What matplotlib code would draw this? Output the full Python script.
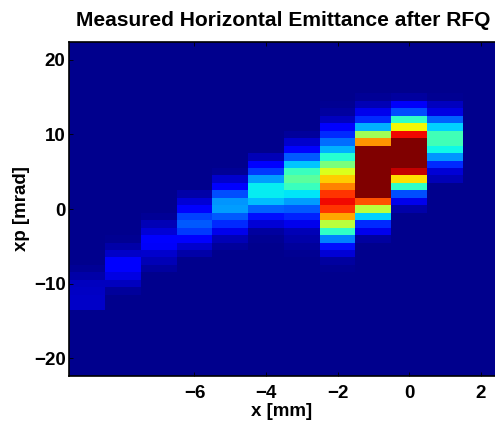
# Measured horizontal emittance after the RFQ, drawn as a jet heat map.

import numpy as np
import matplotlib
matplotlib.use("Agg")
import matplotlib.pyplot as plt

# Slit positions [mm] and angle bins [mrad]
x_centers = [-9, -8, -7, -6, -5, -4, -3, -2, -1, 0, 1, 2]
xp_centers = list(range(-23, 24))

# Each column is listed from its lowest lit xp bin upward
col_start = {-9: -13, -8: -11, -7: -8, -6: -6, -5: -5, -4: -4,
             -3: -6, -2: -8, -1: -4, 0: 0, 1: 4}

col_m9 = [0.052, 0.052, 0.048, 0.042, 0.024, 0.008]
col_m8 = [0.01, 0.042, 0.075, 0.097, 0.097, 0.05, 0.025, 0.005]
col_m7 = [0.014, 0.034, 0.055, 0.095, 0.097, 0.065, 0.034, 0.006]
col_m6 = [0.024, 0.055, 0.105, 0.17, 0.20, 0.18, 0.115, 0.065, 0.024]
col_m5 = [0.012, 0.034, 0.085, 0.155, 0.20, 0.27, 0.26, 0.19, 0.105, 0.055, 0.006]
col_m4 = [0.005, 0.014, 0.065, 0.125, 0.21, 0.30, 0.35, 0.35, 0.27, 0.17, 0.105, 0.034]
col_m3 = [0.003, 0.012, 0.024, 0.034, 0.085, 0.145, 0.20, 0.27, 0.34, 0.41, 0.45, 0.41,
          0.31, 0.20, 0.115, 0.055, 0.012]
col_m2 = [0.005, 0.014, 0.065, 0.125, 0.24, 0.40, 0.57, 0.73, 0.85, 0.90, 0.85, 0.77,
          0.69, 0.61, 0.49, 0.39, 0.29, 0.22, 0.155, 0.105, 0.045, 0.014, 0.005]
col_m1 = [0.014, 0.085, 0.155, 0.32, 0.57, 0.82, 1.0, 1.0, 1.0, 1.0, 1.0, 1.0, 1.0,
          0.75, 0.54, 0.29, 0.155, 0.085, 0.034, 0.006]
col_0 = [0.024, 0.085, 0.19, 0.40, 0.67, 0.94, 1.0, 1.0, 1.0, 1.0, 0.90, 0.64, 0.40,
         0.19, 0.095, 0.014]
col_p1 = [0.034, 0.065, 0.155, 0.26, 0.36, 0.42, 0.42, 0.32, 0.21, 0.075, 0.045, 0.005]

columns = {-9: col_m9, -8: col_m8, -7: col_m7, -6: col_m6, -5: col_m5, -4: col_m4,
           -3: col_m3, -2: col_m2, -1: col_m1, 0: col_0, 1: col_p1}

x_ticks = [-6, -4, -2, 0, 2]
y_ticks = [-20, -10, 0, 10, 20]

plt.rcParams["font.family"] = ["Liberation Sans", "DejaVu Sans"]
plt.rcParams["font.weight"] = "bold"

# Fill the grid, everything not listed stays at the background level
grid = np.zeros((len(xp_centers), len(x_centers)))
for x, vals in columns.items():
    i = x_centers.index(x)
    j = xp_centers.index(col_start[x])
    grid[j:j + len(vals), i] = vals

x_edges = np.arange(len(x_centers) + 1) - 9.5
xp_edges = np.arange(len(xp_centers) + 1) - 23.5

fig = plt.figure(figsize=(4.95, 4.22), dpi=100)
ax = fig.add_axes([69 / 495, 1 - 376 / 422, 426 / 495, 334 / 422])

# vmin a bit below zero so the background is the lighter navy of a 64 level jet
ax.pcolormesh(x_edges, xp_edges, grid, cmap="jet", vmin=-0.014, vmax=1.0)
ax.set_xlim(-9.51, 2.405)
ax.set_ylim(-22.4, 22.4)

ax.set_xticks(x_ticks)
ax.set_yticks(y_ticks)
ax.set_xticklabels([str(t).replace("-", "\u2212") for t in x_ticks])
ax.set_yticklabels([str(t).replace("-", "\u2212") for t in y_ticks])
ax.tick_params(direction="in", length=3, width=0.6, labelsize=13.5, top=True)
ax.tick_params(axis="y", pad=2.5)
ax.tick_params(axis="x", pad=6.6)
ax.spines["right"].set_visible(False)
for side in ["left", "bottom", "top"]:
    ax.spines[side].set_linewidth(1.2)

ax.set_xlabel("x [mm]", fontsize=13.5, fontweight="bold", labelpad=0.7)
ax.set_ylabel("xp [mrad]", fontsize=13.5, fontweight="bold", labelpad=2.4)
fig.text(283.5 / 495, 1 - 20 / 422, "Measured Horizontal Emittance after RFQ",
         ha="center", va="center", fontsize=15.1, fontweight="bold")

fig.savefig("out.png", dpi=100)
